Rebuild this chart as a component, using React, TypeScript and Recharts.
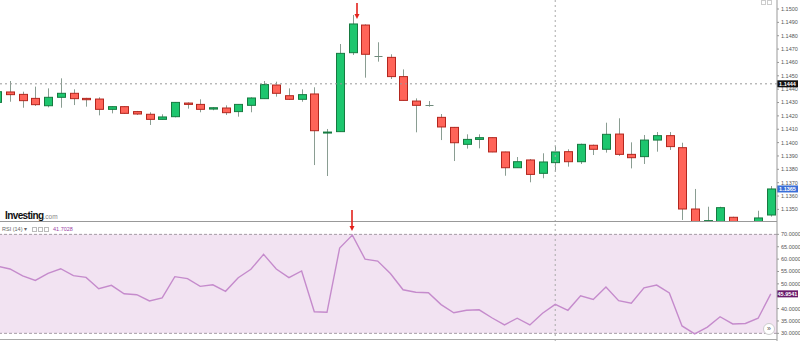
import React from 'react';
import { ComposedChart, Bar, Line, XAxis, YAxis, ReferenceLine, ReferenceArea } from 'recharts';

// one slot per candle, left to right
const slots = Array.from({ length: 62 }, (_, i) => i);

const opens = [
  1.14301, 1.14379, 1.14361, 1.14331, 1.14276, 1.14339, 1.14369, 1.14331, 1.14326, 1.14249,
  1.14269, 1.14232, 1.14212, 1.14174, 1.14194, 1.14296, 1.14286, 1.14251, 1.14259, 1.14232,
  1.14279, 1.14329, 1.14431, 1.14351, 1.14324, 1.14364, 1.14072, 1.14082, 1.14673, 1.1488,
  1.14645, 1.14638, 1.14494, 1.14311, 1.14278, 1.14189, 1.14114, 1.13987, 1.14024, 1.14037,
  1.1393, 1.13812, 1.1387, 1.1377, 1.1385, 1.13932, 1.13857, 1.1398, 1.1395, 1.14064,
  1.13912, 1.13895, 1.14019, 1.14052, 1.13962, 1.13503, 1.13395, 1.13385, 1.13441, 1.13375,
  1.1339, 1.13458,
];
const highs = [
  1.14395, 1.14461, 1.14381, 1.14419, 1.14406, 1.14481, 1.14399, 1.14335, 1.14339, 1.14272,
  1.14272, 1.14237, 1.14227, 1.14212, 1.14304, 1.14301, 1.14324, 1.14266, 1.14279, 1.14288,
  1.14339, 1.14461, 1.14456, 1.14406, 1.14399, 1.14414, 1.14102, 1.14738, 1.14955, 1.14885,
  1.14751, 1.14661, 1.14548, 1.14331, 1.14311, 1.14214, 1.14117, 1.14062, 1.14062, 1.1404,
  1.13932, 1.13892, 1.13877, 1.1392, 1.13977, 1.1395, 1.13992, 1.13985, 1.14149, 1.14182,
  1.14002, 1.14057, 1.14079, 1.14079, 1.13999, 1.13653, 1.1352, 1.1352, 1.13445, 1.13392,
  1.1349, 1.13675,
];
const lows = [
  1.1429, 1.14306, 1.14261, 1.14274, 1.14264, 1.14261, 1.14281, 1.14269, 1.14204, 1.14219,
  1.14214, 1.14207, 1.14132, 1.14172, 1.14189, 1.14254, 1.14227, 1.14242, 1.14207, 1.14194,
  1.14227, 1.14327, 1.14344, 1.14319, 1.14306, 1.13832, 1.1375, 1.1408, 1.14656, 1.14486,
  1.14606, 1.14476, 1.14314, 1.14077, 1.14269, 1.14019, 1.13862, 1.13955, 1.13957, 1.13928,
  1.13752, 1.1381, 1.13703, 1.13733, 1.13782, 1.1382, 1.1384, 1.13907, 1.13925, 1.139,
  1.13807, 1.1384, 1.13932, 1.13945, 1.13421, 1.1335, 1.1337, 1.1336, 1.1336, 1.1332,
  1.1337, 1.13446,
];
const closes = [
  1.14381, 1.14359, 1.14314, 1.14284, 1.14339, 1.14369, 1.14329, 1.14321, 1.14249, 1.14269,
  1.14219, 1.14214, 1.14174, 1.14192, 1.14301, 1.14286, 1.14249, 1.14261, 1.14224, 1.14286,
  1.14334, 1.14434, 1.14369, 1.14324, 1.14359, 1.14089, 1.14079, 1.14668, 1.14888, 1.14661,
  1.14647, 1.14494, 1.14316, 1.14279, 1.14277, 1.14117, 1.13999, 1.14024, 1.14037, 1.1393,
  1.13812, 1.13857, 1.13762, 1.13855, 1.1393, 1.13857, 1.13987, 1.1395, 1.14062, 1.13912,
  1.13887, 1.14019, 1.14052, 1.1397, 1.13503, 1.1338, 1.13416, 1.13513, 1.1338, 1.13385,
  1.13436, 1.13653,
];
const rsiValues = [
  57.2, 56.0, 53.2, 51.4, 54.2, 56.1, 53.3, 52.6, 48.0, 49.4,
  46.0, 45.6, 43.1, 44.3, 52.9, 52.1, 49.0, 49.6, 47.0, 52.5,
  55.9, 61.9, 56.0, 52.5, 55.2, 38.7, 38.5, 64.5, 69.7, 60.0,
  59.2, 54.2, 47.6, 46.6, 46.4, 41.6, 38.3, 39.3, 39.5, 36.3,
  33.4, 36.1, 33.4, 38.1, 41.7028, 39.3, 45.2, 43.7, 48.7, 43.2,
  42.2, 48.4, 49.5, 46.3, 33.0, 29.8, 32.5, 36.7, 33.8, 34.0,
  36.1, 45.9541,
];

const priceTicks = [1.135, 1.136, 1.137, 1.138, 1.139, 1.14, 1.141, 1.142, 1.143, 1.144, 1.145, 1.146, 1.147, 1.148, 1.149, 1.15];
// 45 is hidden behind the last-value tag in the original
const rsiTicks = [30, 35, 40, 50, 55, 60, 65, 70];
const markedPrice = 1.1444;
const cursorSlot = 44;

const rows = slots.map((i) => ({
  i,
  open: opens[i],
  high: highs[i],
  low: lows[i],
  close: closes[i],
  rsi: rsiValues[i],
}));

const lastClose = closes[closes.length - 1];
const lastRsi = rsiValues[rsiValues.length - 1];
const cursorRsi = rsiValues[cursorSlot];

const FONT = '"Liberation Sans", Arial, sans-serif';
const xDomain: [number, number] = [0.213, 61.49];

const Candle = (props: any) => {
  const { x, y, width, height, payload } = props;
  if (!payload || height == null) return null;
  const { open, close, high, low } = payload;
  const top = Math.min(y, y + height);
  const h = Math.abs(height);
  const toY = (p: number) => top + ((high - p) / (high - low)) * h;
  const cx = Math.round(x + width / 2) + 0.5;
  const up = close >= open;
  const bTop = toY(Math.max(open, close));
  const bBot = toY(Math.min(open, close));
  const doji = Math.abs(close - open) < 0.00004;
  return (
    <g>
      <line x1={cx} x2={cx} y1={top} y2={top + h} stroke="#8a9d92" strokeWidth={1} />
      {doji ? (
        <line x1={cx - 4} x2={cx + 4} y1={Math.round(bTop) + 0.5} y2={Math.round(bTop) + 0.5} stroke="#6f8a7b" strokeWidth={1} />
      ) : (
        <rect
          x={cx - 4}
          y={bTop}
          width={8}
          height={Math.max(1, bBot - bTop)}
          fill={up ? '#1dc66e' : '#ff6459'}
          stroke={up ? '#167a40' : '#b3261e'}
          strokeWidth={1}
        />
      )}
    </g>
  );
};

const Tag = (props: any) => {
  const { viewBox, text, bg } = props;
  if (!viewBox) return null;
  const left = viewBox.x + viewBox.width;
  return (
    <g>
      <rect x={left} y={viewBox.y - 3.5} width={21} height={7} fill={bg} />
      <text x={left + 10.5} y={viewBox.y + 2} textAnchor="middle" fontSize={5.5} fontWeight="bold" fill="#fff" fontFamily={FONT}>
        {text}
      </text>
    </g>
  );
};

// hand-drawn red marker arrow
const Arrow = ({ x, y1, y2 }: { x: number; y1: number; y2: number }) => (
  <g>
    <line x1={x} x2={x} y1={y1} y2={y2 - 4} stroke="#e3221c" strokeWidth={1.6} />
    <polygon points={`${x - 2.5},${y2 - 5} ${x + 2.5},${y2 - 5} ${x},${y2}`} fill="#e3221c" />
  </g>
);

const App = () => {
  return (
    <div style={{ position: 'absolute', left: 0, top: 0, width: 800, height: 341, background: '#fff', overflow: 'hidden', fontFamily: FONT }}>
      <div style={{ position: 'absolute', left: 0, top: 0 }}>
        <ComposedChart width={800} height={222} data={rows} margin={{ top: 0, right: 0, left: 0, bottom: 0 }}>
          <XAxis dataKey="i" type="number" domain={xDomain} allowDataOverflow hide />
          <YAxis
            orientation="right"
            width={23}
            domain={[1.134057, 1.150674]}
            allowDataOverflow
            ticks={priceTicks}
            tickFormatter={(v: number) => v.toFixed(4)}
            tick={{ fontSize: 5.5, fill: '#555', fontFamily: FONT }}
            tickSize={2}
            tickMargin={2}
            axisLine={{ stroke: '#999' }}
            tickLine={{ stroke: '#999' }}
          />
          <ReferenceLine x={cursorSlot} stroke="#aaa" strokeDasharray="2 3" />
          <ReferenceLine
            y={markedPrice}
            stroke="#999"
            strokeDasharray="2 3"
            label={<Tag text={markedPrice.toFixed(4)} bg="#111" />}
          />
          <ReferenceLine y={lastClose} stroke="none" label={<Tag text={lastClose.toFixed(4)} bg="#3a6fd8" />} />
          <Bar dataKey={(d: any) => [d.low, d.high]} barSize={9} shape={<Candle />} isAnimationActive={false} />
        </ComposedChart>
      </div>

      <div style={{ position: 'absolute', left: 0, top: 222 }}>
        <ComposedChart width={800} height={119} data={rows} margin={{ top: 0, right: 0, left: 0, bottom: 0 }}>
          <XAxis dataKey="i" type="number" domain={xDomain} allowDataOverflow hide />
          <YAxis
            orientation="right"
            width={23}
            domain={[26.9, 75]}
            allowDataOverflow
            ticks={rsiTicks}
            tickFormatter={(v: number) => v.toFixed(4)}
            tick={{ fontSize: 5.5, fill: '#555', fontFamily: FONT }}
            tickSize={2}
            tickMargin={2}
            axisLine={{ stroke: '#999' }}
            tickLine={{ stroke: '#999' }}
          />
          <ReferenceArea y1={30} y2={70} fill="#f2e3f2" fillOpacity={1} stroke="none" />
          <ReferenceLine y={70} stroke="#a59ca5" strokeDasharray="3 2" />
          <ReferenceLine y={30} stroke="#a59ca5" strokeDasharray="3 2" />
          <ReferenceLine x={cursorSlot} stroke="#aaa" strokeDasharray="2 3" />
          <ReferenceLine y={lastRsi} stroke="none" label={<Tag text={lastRsi.toFixed(4)} bg="#6a1a6a" />} />
          <Line dataKey="rsi" stroke="#c58bcc" strokeWidth={1.4} dot={false} isAnimationActive={false} />
        </ComposedChart>
      </div>

      {/* pane separators */}
      <div style={{ position: 'absolute', left: 0, top: 221, width: 777, height: 1, background: '#999' }} />
      <div style={{ position: 'absolute', left: 0, top: 339, width: 777, height: 1, background: '#aaa' }} />

      {/* annotation arrows */}
      <svg width={800} height={341} style={{ position: 'absolute', left: 0, top: 0, pointerEvents: 'none' }}>
        <Arrow x={357} y1={3} y2={19} />
        <Arrow x={352} y1={210} y2={231} />
      </svg>

      {/* logo */}
      <div style={{ position: 'absolute', left: 5, top: 206, whiteSpace: 'nowrap', lineHeight: 1 }}>
        <span style={{ fontSize: 10, fontWeight: 'bold', letterSpacing: -0.6, color: '#111' }}>Investing</span>
        <span style={{ fontSize: 6.5, color: '#888' }}>.com</span>
      </div>

      {/* rsi header */}
      <div style={{ position: 'absolute', left: 2, top: 226, fontSize: 5.5, color: '#666', whiteSpace: 'nowrap', lineHeight: '7px' }}>
        RSI (14) ▾
        {[0, 1, 2].map((k) => (
          <span key={k} style={{ display: 'inline-block', width: 3, height: 3, border: '1px solid #bbb', marginLeft: k === 0 ? 5 : 1, verticalAlign: 'middle' }} />
        ))}
        <span style={{ color: '#9b3fa5', marginLeft: 4 }}>{cursorRsi.toFixed(4)}</span>
      </div>

      {/* top-right toggles */}
      <div style={{ position: 'absolute', left: 761, top: 0, width: 3, height: 3, border: '1px solid #ccc' }} />
      <div style={{ position: 'absolute', left: 767, top: 0, width: 3, height: 3, border: '1px solid #ccc' }} />

      {/* scroll button */}
      <div
        style={{
          position: 'absolute', left: 763, top: 323, width: 10, height: 10, borderRadius: '50%',
          border: '1px solid #ccc', background: '#fff', fontSize: 7, lineHeight: '10px', textAlign: 'center', color: '#555',
        }}
      >
        »
      </div>
    </div>
  );
};

export default App;
